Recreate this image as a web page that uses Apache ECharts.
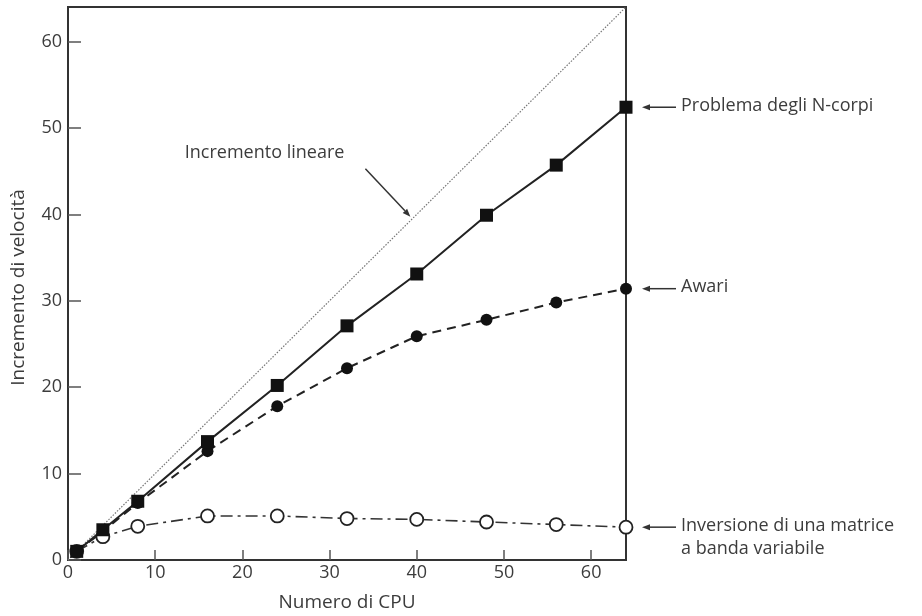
<!DOCTYPE html>
<html>
<head>
<meta charset="utf-8">
<script src="https://cdn.jsdelivr.net/npm/echarts@6/dist/echarts.min.js"></script>
<style>
html,body{margin:0;padding:0;background:#fff;}
#chart{width:922px;height:616px;}
</style>
</head>
<body>
<div id="chart"></div>
<script>
const cpus = [1, 4, 8, 16, 24, 32, 40, 48, 56, 64];
const nCorpi = [1.0, 3.5, 6.8, 13.7, 20.2, 27.1, 33.1, 39.9, 45.7, 52.4];
const awari = [1.0, 3.3, 6.6, 12.6, 17.8, 22.2, 25.9, 27.8, 29.8, 31.4];
const inversione = [1.0, 2.7, 3.9, 5.1, 5.1, 4.8, 4.7, 4.4, 4.1, 3.8];
const linearX = [0, 64];
const linearY = [0, 64];

const seriesNames = ['Problema degli N-corpi', 'Awari', 'Inversione di una matrice\na banda variabile'];
const linearName = 'Incremento lineare';
const xName = 'Numero di CPU';
const yName = 'Incremento di velocità';

const FONT = 'Open Sans';
const TXT = '#3c3c3c';

function pairs(xs, ys) { return xs.map((x, i) => [x, ys[i]]); }

const chart = echarts.init(document.getElementById('chart'), null, {renderer: 'canvas'});
const option = {
  animation: false,
  backgroundColor: '#ffffff',
  textStyle: {fontFamily: FONT},
  grid: {left: 68, right: 296, top: 7, bottom: 56, containLabel: false, outerBoundsMode: 'none',
         show: true, borderColor: '#333', borderWidth: 2, backgroundColor: 'transparent'},
  xAxis: {
    type: 'value', min: 0, max: 64, interval: 10,
    name: xName, nameLocation: 'middle', nameGap: 33,
    nameTextStyle: {fontFamily: FONT, fontSize: 19, color: TXT},
    axisLine: {show: true, lineStyle: {color: '#333', width: 2}},
    axisTick: {show: true, inside: true, length: 10, lineStyle: {color: '#555', width: 1.5}},
    axisLabel: {fontFamily: FONT, fontSize: 18, color: TXT, margin: 4, showMaxLabel: false},
    splitLine: {show: false}
  },
  yAxis: {
    type: 'value', min: 0, max: 64, interval: 10,
    name: yName, nameLocation: 'middle', nameGap: 40, nameRotate: 90,
    nameTextStyle: {fontFamily: FONT, fontSize: 19, color: TXT, padding: [0, 8, 0, 0]},
    axisLine: {show: true, lineStyle: {color: '#333', width: 2}},
    axisTick: {show: true, inside: true, length: 13, lineStyle: {color: '#555', width: 1.5}},
    axisLabel: {fontFamily: FONT, fontSize: 18, color: TXT, margin: 6, showMaxLabel: false},
    splitLine: {show: false}
  },
  series: [
    {
      name: linearName, type: 'line', data: pairs(linearX, linearY),
      showSymbol: false, symbol: 'none', clip: false, z: 1,
      lineStyle: {color: '#777', width: 1.2, type: [1.5, 1.5]}
    },
    {
      name: seriesNames[1], type: 'line', data: pairs(cpus, awari),
      symbol: 'circle', symbolSize: 12, clip: false, z: 3,
      itemStyle: {color: '#111', borderColor: '#111', borderWidth: 0},
      lineStyle: {color: '#222', width: 2, type: [9, 6]}
    },
    {
      name: seriesNames[0], type: 'line', data: pairs(cpus, nCorpi),
      symbol: 'rect', symbolSize: 13, clip: false, z: 4,
      itemStyle: {color: '#111'},
      lineStyle: {color: '#222', width: 2}
    },
    {
      name: seriesNames[2], type: 'line', data: pairs(cpus, inversione),
      symbol: 'circle', symbolSize: 13, clip: false, z: 3,
      itemStyle: {color: '#fff', borderColor: '#222', borderWidth: 1.8},
      lineStyle: {color: '#333', width: 1.6, type: [12, 5, 3, 5]}
    }
  ]
};
chart.setOption(option);

// Annotations positioned via the chart's own scales
const graphics = [];
function arrowTo(x1, y1, x2, y2) {
  const ang = Math.atan2(y2 - y1, x2 - x1);
  const L = 8, W = 3;
  const bx = x2 - L * Math.cos(ang), by = y2 - L * Math.sin(ang);
  const px = -Math.sin(ang) * W, py = Math.cos(ang) * W;
  graphics.push({type: 'line', shape: {x1: x1, y1: y1, x2: bx, y2: by}, style: {stroke: '#333', lineWidth: 1.5}, z: 10});
  graphics.push({type: 'polygon', shape: {points: [[x2, y2], [bx + px, by + py], [bx - px, by - py]]}, style: {fill: '#333'}, z: 10});
}
const ends = [nCorpi, awari, inversione];
ends.forEach((arr, i) => {
  const p = chart.convertToPixel({gridIndex: 0}, [cpus[cpus.length - 1], arr[arr.length - 1]]);
  arrowTo(p[0] + 50, p[1], p[0] + 16, p[1]);
  graphics.push({
    type: 'text', x: p[0] + 55, y: p[1] - 13, z: 10,
    style: {text: seriesNames[i], fontFamily: FONT, fontSize: 18, fill: TXT, lineHeight: 23, textVerticalAlign: 'top'}
  });
});
const tip = chart.convertToPixel({gridIndex: 0}, [39.5, 39.5]);
arrowTo(tip[0] - 47, tip[1] - 50, tip[0] - 2, tip[1] - 2);
graphics.push({
  type: 'text', x: tip[0] - 68, y: tip[1] - 66, z: 10,
  style: {text: linearName, fontFamily: FONT, fontSize: 18, fill: TXT, textAlign: 'right', textVerticalAlign: 'middle'}
});
chart.setOption({graphic: graphics});
</script>
</body>
</html>
